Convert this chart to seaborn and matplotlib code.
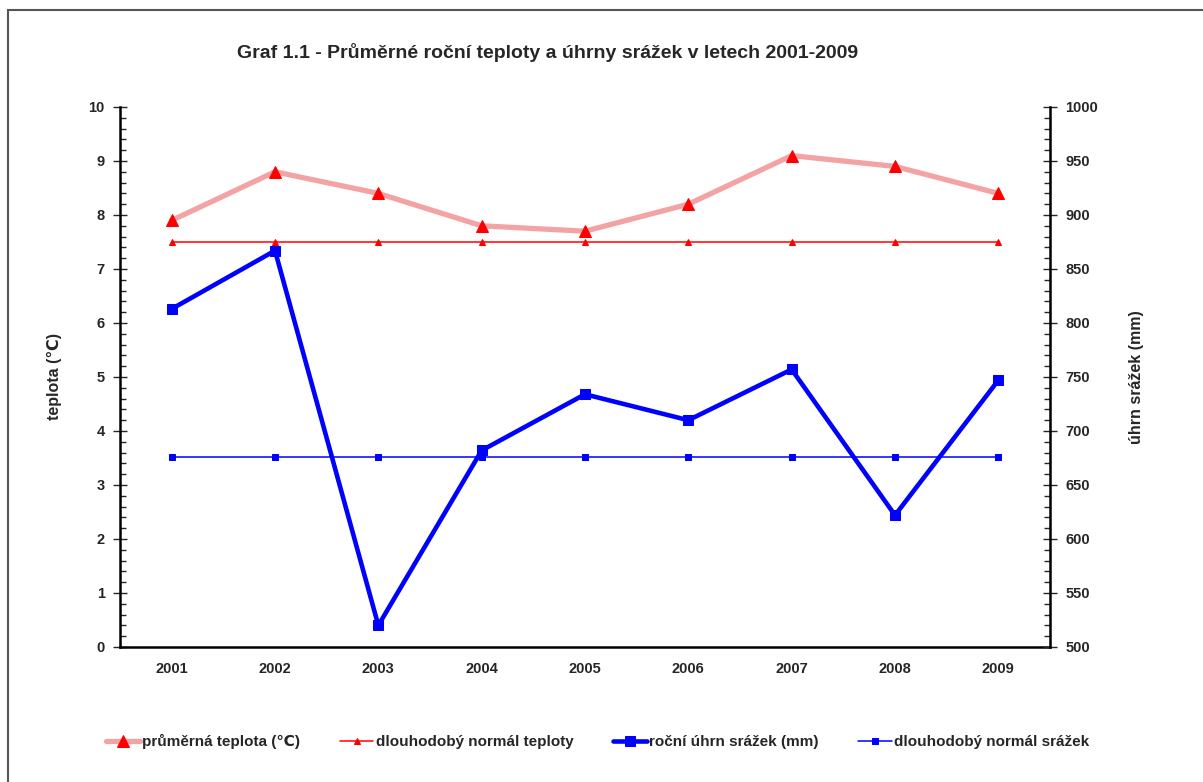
import numpy as np
import pandas as pd
import matplotlib.pyplot as plt
import matplotlib.patches as mpatches
from matplotlib.ticker import MultipleLocator, FixedLocator
import seaborn as sns

sns.set_style('white')
plt.rcParams['font.family'] = ['Liberation Sans', 'DejaVu Sans']
plt.rcParams['font.weight'] = 'bold'

# --- data ---
years = ['2001', '2002', '2003', '2004', '2005', '2006', '2007', '2008', '2009']
teplota = [7.9, 8.8, 8.4, 7.8, 7.7, 8.2, 9.1, 8.9, 8.4]
normal_teplota = [7.5, 7.5, 7.5, 7.5, 7.5, 7.5, 7.5, 7.5, 7.5]
srazky = [813, 867, 520, 682, 734, 710, 757, 622, 747]
normal_srazky = [676, 676, 676, 676, 676, 676, 676, 676, 676]

df = pd.DataFrame({'rok': years, 'teplota': teplota, 'normal_t': normal_teplota,
                   'srazky': srazky, 'normal_s': normal_srazky})

fig = plt.figure(figsize=(12.03, 7.82), dpi=100)
ax = fig.add_axes([120 / 1203, 135 / 782, 930 / 1203, 540 / 782])
ax2 = ax.twinx()

# teploty na levé ose
sns.lineplot(data=df, x='rok', y='teplota', ax=ax, color='#f3a3a3', lw=3.8,
             marker='^', markersize=8, markerfacecolor='red', markeredgecolor='red',
             label='průměrná teplota (℃)', legend=False)
sns.lineplot(data=df, x='rok', y='normal_t', ax=ax, color='red', lw=1.1,
             marker='^', markersize=5, markerfacecolor='red', markeredgecolor='red',
             label='dlouhodobý normál teploty', legend=False)

# srážky na pravé ose
sns.lineplot(data=df, x='rok', y='srazky', ax=ax2, color='blue', lw=3.3,
             marker='s', markersize=7.5, markerfacecolor='blue', markeredgecolor='blue',
             label='roční úhrn srážek (mm)', legend=False)
sns.lineplot(data=df, x='rok', y='normal_s', ax=ax2, color='blue', lw=1.1,
             marker='s', markersize=4.5, markerfacecolor='blue', markeredgecolor='blue',
             label='dlouhodobý normál srážek', legend=False)

ax.set_xlim(-0.5, len(years) - 0.5)
ax.set_ylim(0, 10)
ax2.set_ylim(500, 1000)

for a in (ax, ax2):
    for s in a.spines.values():
        s.set_visible(False)
ax.spines['left'].set_visible(True)
ax.spines['bottom'].set_visible(True)
ax2.spines['right'].set_visible(True)
for s in (ax.spines['left'], ax.spines['bottom'], ax2.spines['right']):
    s.set_color('black')
    s.set_linewidth(1.8)

# osa x: popisky uprostřed, čárky mezi kategoriemi
ax.set_xticks(range(len(years)))
ax.set_xticklabels(years, fontsize=10.5, fontweight='bold')
ax.xaxis.set_minor_locator(FixedLocator(np.arange(-0.5, len(years), 1.0)))
ax.tick_params(axis='x', which='major', length=0, pad=11)
ax.tick_params(axis='x', which='minor', direction='inout', length=9, width=1, color='#333333')

ax.yaxis.set_major_locator(MultipleLocator(1))
ax.yaxis.set_minor_locator(MultipleLocator(0.2))
ax.tick_params(axis='y', which='major', direction='inout', length=10, width=1, labelsize=10.5, pad=6)
ax.tick_params(axis='y', which='minor', direction='in', length=4, width=1)
ax.tick_params(axis='y', left=True, which='both')

ax2.yaxis.set_major_locator(MultipleLocator(50))
ax2.yaxis.set_minor_locator(MultipleLocator(10))
ax2.tick_params(axis='y', which='major', direction='inout', length=10, width=1, labelsize=10.5, pad=6)
ax2.tick_params(axis='y', which='minor', direction='in', length=4, width=1)
for lab in ax.get_yticklabels() + ax2.get_yticklabels():
    lab.set_fontweight('bold')

ax.set_xlabel('')
ax.set_ylabel('teplota (℃)', fontsize=11.5, fontweight='bold', labelpad=19)
ax2.set_ylabel('úhrn srážek (mm)', fontsize=11.5, fontweight='bold', labelpad=22)
ax.grid(False)
ax2.grid(False)

fig.text(0.455, 0.933, 'Graf 1.1 - Průměrné roční teploty a úhrny srážek v letech 2001-2009',
         ha='center', va='center', fontsize=14, fontweight='bold')

handles = ax.get_lines()[:2] + ax2.get_lines()[:2]
labels = [h.get_label() for h in handles]
fig.legend(handles, labels, loc='center', bbox_to_anchor=(0.497, 0.052), ncol=4,
           frameon=False, handlelength=2.2, handletextpad=0.15,
           columnspacing=2.6, prop={'weight': 'bold', 'size': 11})

# rámeček kolem grafu
fig.patches.append(mpatches.Rectangle((8 / 1203, -0.05), 1.2, (772 / 782) + 0.05,
                                      transform=fig.transFigure, fill=False,
                                      edgecolor='#555555', lw=1.5))

fig.savefig('out.png', dpi=100)
